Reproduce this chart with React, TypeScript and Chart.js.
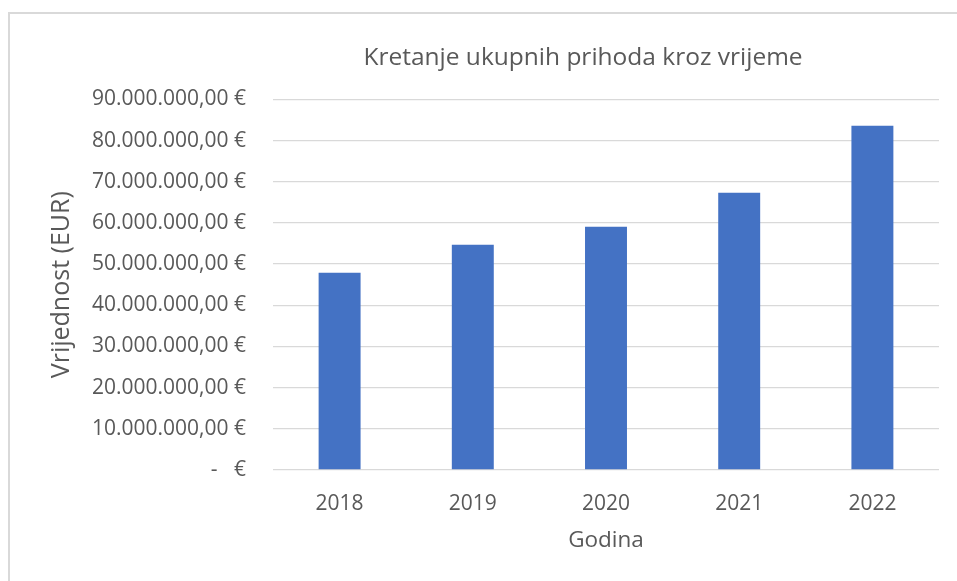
import React, { useEffect, useRef } from "react";
import { Chart, registerables } from "chart.js";

Chart.register(...registerables);

const chartTitle = "Kretanje ukupnih prihoda kroz vrijeme";
const years = ["2018", "2019", "2020", "2021", "2022"];
const revenues = [47900000, 54700000, 59100000, 67300000, 83600000];
const yMin = 0;
const yMax = 90000000;
const yStep = 10000000;
const xTitle = "Godina";
const yTitle = "Vrijednost (EUR)";

const TEXT = "#595959";
const GRID = "#d9d9d9";
const BAR = "#4472C4";
const FONT = "'Open Sans', sans-serif";

function formatEuro(v: number): string {
  if (v === 0) return "-   €";
  const s = Math.round(v)
    .toString()
    .replace(/\B(?=(\d{3})+(?!\d))/g, ".");
  return s + ",00 €";
}

export default function App() {
  const ref = useRef<HTMLCanvasElement | null>(null);

  useEffect(() => {
    if (!ref.current) return;
    const chart = new Chart(ref.current, {
      type: "bar",
      data: {
        labels: years,
        datasets: [
          {
            data: revenues,
            backgroundColor: BAR,
            borderWidth: 0,
            categoryPercentage: 1,
            barPercentage: 0.315,
            yAxisID: "y",
          },
        ],
      },
      options: {
        animation: false,
        responsive: true,
        maintainAspectRatio: false,
        layout: { padding: { left: 0, right: 2, top: 29, bottom: 0 } },
        plugins: {
          legend: { display: false },
          tooltip: { enabled: false },
          title: {
            display: true,
            text: chartTitle,
            color: TEXT,
            font: { family: FONT, size: 24.5, weight: "normal", lineHeight: 1.2 },
            padding: { top: 0, bottom: 27 },
          },
        },
        scales: {
          x: {
            grid: { display: false, drawTicks: false },
            border: { display: false },
            ticks: {
              color: TEXT,
              font: { family: FONT, size: 21 },
              padding: 21,
            },
            title: {
              display: true,
              text: xTitle,
              color: TEXT,
              font: { family: FONT, size: 22.5, lineHeight: 1.2 },
              padding: { top: 0, bottom: 27 },
            },
            afterFit: (scale: any) => {
              scale.height = 111;
            },
          },
          y: {
            position: "left",
            min: yMin,
            max: yMax,
            grid: { color: GRID, lineWidth: 1.3, drawTicks: false },
            border: { display: false },
            ticks: {
              stepSize: yStep,
              color: TEXT,
              font: { family: FONT, size: 21 },
              padding: 27,
              callback: (v: any) => formatEuro(Number(v)),
            },
            title: {
              display: true,
              text: yTitle,
              color: TEXT,
              font: { family: FONT, size: 25, lineHeight: 1.2 },
              padding: { top: 37, bottom: 0 },
            },
            afterFit: (scale: any) => {
              scale.width = 263;
            },
          },
          yRight: {
            type: "linear",
            position: "right",
            display: true,
            grid: { display: false, drawTicks: false },
            border: { display: false },
            ticks: { display: false },
            afterFit: (scale: any) => {
              scale.width = 217;
            },
          },
        },
      },
    });
    return () => chart.destroy();
  }, []);

  return (
    <div
      style={{
        position: "absolute",
        left: 8,
        top: 12,
        width: 949,
        height: 569,
        borderTop: "2px solid #d9d9d9",
        borderLeft: "2px solid #d9d9d9",
        boxSizing: "border-box",
        background: "#ffffff",
        overflow: "hidden",
      }}
    >
      <div style={{ position: "relative", width: 1148, height: 567 }}>
        <canvas ref={ref} />
      </div>
    </div>
  );
}
